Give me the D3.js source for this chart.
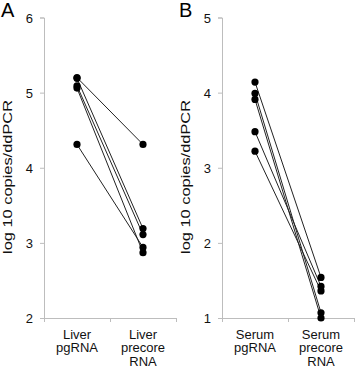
<!DOCTYPE html>
<html>
<head>
<meta charset="utf-8">
<script src="https://cdn.jsdelivr.net/npm/d3@7"></script>
<style>
  body { margin: 0; background: #fff; }
  svg { display: block; font-family: "Liberation Sans", Arial, sans-serif; }
  .axis path, .axis line { stroke: #bdbdbd; }
  .axis text { fill: #111; font-size: 13px; }
</style>
</head>
<body>
<div id="chart"></div>
<script>
// panel A - liver
const liverCats = [["Liver", "pgRNA"], ["Liver", "precore", "RNA"]];
const liverPg = [5.20, 5.19, 5.09, 5.06, 4.31];
const liverPre = [4.31, 3.19, 3.11, 2.87, 2.94];
const liverTicks = [2, 3, 4, 5, 6];

// panel B - serum
const serumCats = [["Serum", "pgRNA"], ["Serum", "precore", "RNA"]];
const serumPg = [4.14, 3.99, 3.91, 3.48, 3.22];
const serumPre = [1.54, 1.07, 1.00, 1.42, 1.36];
const serumTicks = [1, 2, 3, 4, 5];

const yTitle = "log 10 copies/ddPCR";

const width = 358, height = 369;
const svg = d3.select("#chart").append("svg")
    .attr("width", width).attr("height", height);

function panel(opts) {
  const g = svg.append("g");
  const y = d3.scaleLinear()
      .domain(d3.extent(opts.ticks))
      .range([318, 17.5]);
  const x = d3.scaleBand()
      .domain(d3.range(opts.cats.length))
      .range([opts.left, opts.left + 132]);
  const edges = d3.scaleLinear().domain([0, opts.cats.length]).range(x.range());

  g.append("g")
      .attr("class", "axis")
      .attr("transform", "translate(" + opts.left + ",0)")
      .call(d3.axisLeft(y).tickValues(opts.ticks).tickFormat(d3.format("d"))
        .tickSize(4).tickPadding(7).tickSizeOuter(4))
      .call(s => s.selectAll("text").attr("dy", "0.36em"));

  g.append("g")
      .attr("class", "axis")
      .attr("transform", "translate(0,318)")
      .call(d3.axisBottom(edges).tickValues(d3.range(opts.cats.length + 1)).tickFormat("").tickSize(4).tickSizeOuter(0));

  // category labels
  g.selectAll(".cat")
      .data(opts.cats)
    .enter().append("text")
      .attr("class", "cat")
      .attr("text-anchor", "middle")
      .style("font-size", "13px")
      .style("fill", "#111")
      .each(function (d, i) {
        d3.select(this).selectAll("tspan")
            .data(d)
          .enter().append("tspan")
            .attr("x", x(i) + x.bandwidth() / 2)
            .attr("y", (t, j) => 338.5 + j * 13.5)
            .text(t => t);
      });

  const pairs = opts.pg.map((v, i) => [v, opts.pre[i]]);
  const cx = i => x(i) + x.bandwidth() / 2;

  g.selectAll(".pair")
      .data(pairs)
    .enter().append("line")
      .attr("x1", cx(0))
      .attr("x2", cx(1))
      .attr("y1", d => y(d[0]))
      .attr("y2", d => y(d[1]))
      .style("stroke", "#222")
      .style("stroke-width", 1);

  g.selectAll(".dot")
      .data(pairs.flatMap(d => [[0, d[0]], [1, d[1]]]))
    .enter().append("circle")
      .attr("cx", d => cx(d[0]))
      .attr("cy", d => y(d[1]))
      .attr("r", 3.6)
      .style("fill", "#000");

  g.append("text")
      .attr("transform", "translate(" + (opts.left - 32) + ",177) rotate(-90)")
      .attr("text-anchor", "middle")
      .attr("textLength", 154)
      .attr("lengthAdjust", "spacingAndGlyphs")
      .style("font-size", "12.5px")
      .style("fill", "#111")
      .text(yTitle);

  g.append("text")
      .attr("x", opts.left - 43)
      .attr("y", 17)
      .style("font-size", "20px")
      .style("fill", "#000")
      .text(opts.letter);
}

panel({ left: 44, cats: liverCats, pg: liverPg, pre: liverPre, ticks: liverTicks, letter: "A" });
panel({ left: 222, cats: serumCats, pg: serumPg, pre: serumPre, ticks: serumTicks, letter: "B" });
</script>
</body>
</html>
